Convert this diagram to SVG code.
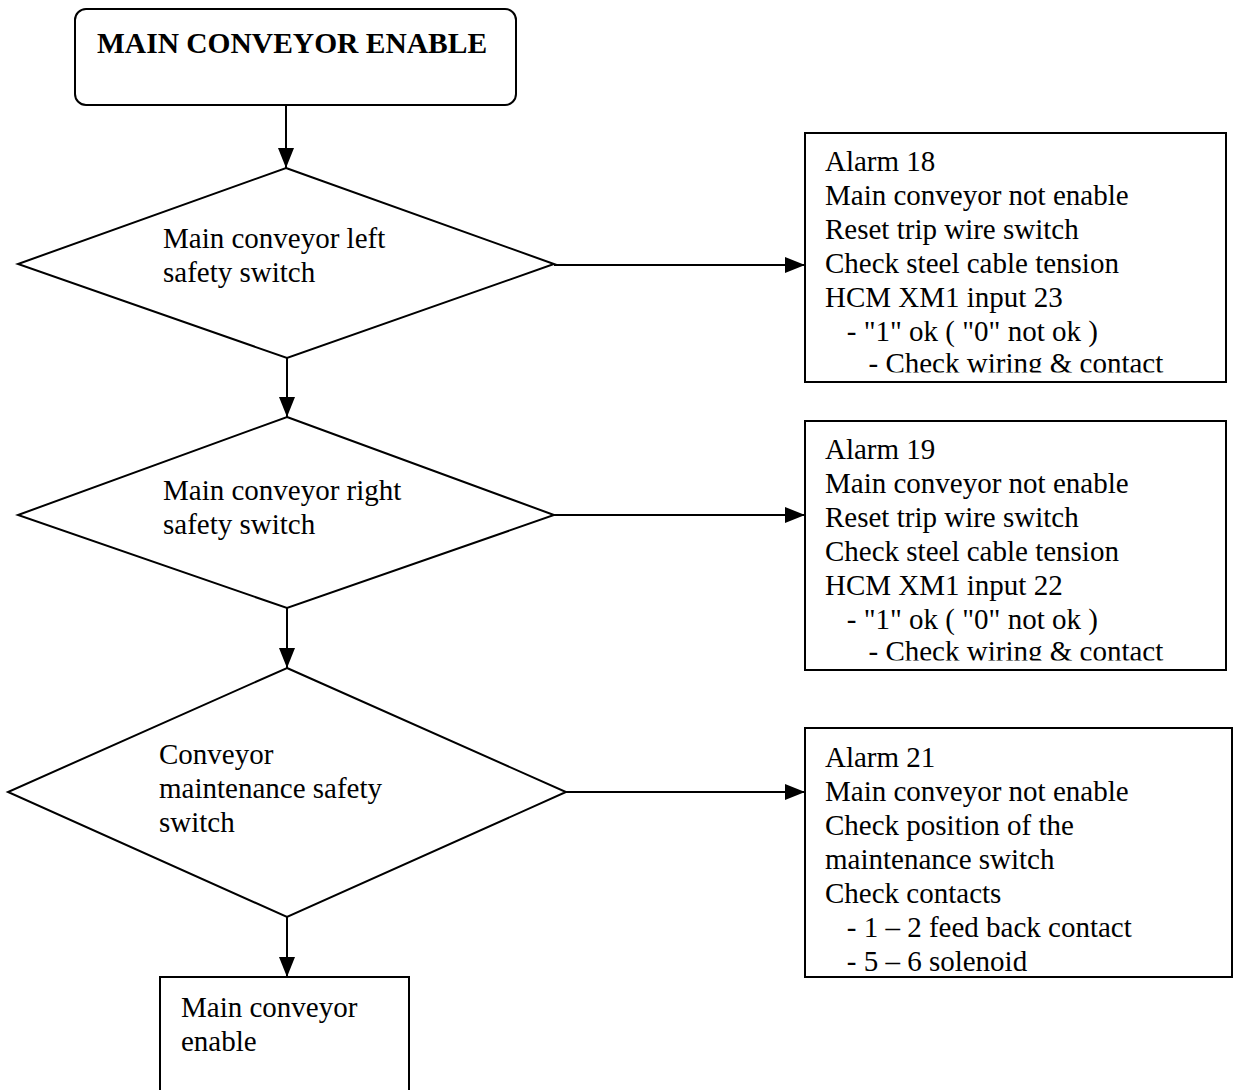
<svg xmlns="http://www.w3.org/2000/svg" width="1237" height="1090" viewBox="0 0 1237 1090">
<style>
.s{fill:#fff;stroke:#000;stroke-width:2}
.t{font-family:"Liberation Serif","Times New Roman",serif;font-size:29px;fill:#000}
.b{font-weight:bold;font-size:29.5px}
.c{stroke:#000;stroke-width:2;fill:none}
</style>
<defs>
<marker id="ah" markerUnits="userSpaceOnUse" markerWidth="20" markerHeight="16" refX="20" refY="8" orient="auto">
<path d="M0,0 L20,8 L0,16 z" fill="#000"/>
</marker>
<clipPath id="c1"><rect x="806" y="134" width="419" height="238.5"/></clipPath>
<clipPath id="c2"><rect x="806" y="422" width="419" height="238.5"/></clipPath>
<clipPath id="c3"><rect x="806" y="729" width="425" height="246"/></clipPath>
</defs>
<g id="connectors">
<line class="c" x1="286" y1="105" x2="286" y2="168" marker-end="url(#ah)"/>
<line class="c" x1="287" y1="358" x2="287" y2="417" marker-end="url(#ah)"/>
<line class="c" x1="287" y1="608" x2="287" y2="668" marker-end="url(#ah)"/>
<line class="c" x1="287" y1="917" x2="287" y2="977" marker-end="url(#ah)"/>
<line class="c" x1="554" y1="265" x2="805" y2="265" marker-end="url(#ah)"/>
<line class="c" x1="554" y1="515" x2="805" y2="515" marker-end="url(#ah)"/>
<line class="c" x1="566" y1="792" x2="805" y2="792" marker-end="url(#ah)"/>
</g>
<g id="start">
<rect class="s" x="75" y="9" width="441" height="96" rx="11"/>
<text class="t b" x="97" y="53">MAIN CONVEYOR ENABLE</text>
</g>
<g id="d1">
<polygon class="s" points="286,168 554,264 287,358 18,264"/>
<text class="t" x="163" y="248">Main conveyor left</text>
<text class="t" x="163" y="282">safety switch</text>
</g>
<g id="d2">
<polygon class="s" points="287,417 554,515 287,608 18,515"/>
<text class="t" x="163" y="500">Main conveyor right</text>
<text class="t" x="163" y="534">safety switch</text>
</g>
<g id="d3">
<polygon class="s" points="287,668 566,792 287,917 8,792"/>
<text class="t" x="159" y="764">Conveyor</text>
<text class="t" x="159" y="798">maintenance safety</text>
<text class="t" x="159" y="832">switch</text>
</g>
<g id="end">
<rect class="s" x="160" y="977" width="249" height="130"/>
<text class="t" x="181" y="1017">Main conveyor</text>
<text class="t" x="181" y="1051">enable</text>
</g>
<g id="a18">
<rect class="s" x="805" y="133" width="421" height="249"/>
<g clip-path="url(#c1)">
<text class="t" x="825" y="171">Alarm 18</text>
<text class="t" x="825" y="205">Main conveyor not enable</text>
<text class="t" x="825" y="239">Reset trip wire switch</text>
<text class="t" x="825" y="273">Check steel cable tension</text>
<text class="t" x="825" y="307">HCM XM1 input 23</text>
<text class="t" x="825" y="341" xml:space="preserve">   - "1" ok ( "0" not ok )</text>
<text class="t" x="825" y="373" xml:space="preserve">      - Check wiring &amp; contact</text>
</g>
</g>
<g id="a19">
<rect class="s" x="805" y="421" width="421" height="249"/>
<g clip-path="url(#c2)">
<text class="t" x="825" y="459">Alarm 19</text>
<text class="t" x="825" y="493">Main conveyor not enable</text>
<text class="t" x="825" y="527">Reset trip wire switch</text>
<text class="t" x="825" y="561">Check steel cable tension</text>
<text class="t" x="825" y="595">HCM XM1 input 22</text>
<text class="t" x="825" y="629" xml:space="preserve">   - "1" ok ( "0" not ok )</text>
<text class="t" x="825" y="661" xml:space="preserve">      - Check wiring &amp; contact</text>
</g>
</g>
<g id="a21">
<rect class="s" x="805" y="728" width="427" height="249"/>
<g clip-path="url(#c3)">
<text class="t" x="825" y="767">Alarm 21</text>
<text class="t" x="825" y="801">Main conveyor not enable</text>
<text class="t" x="825" y="835">Check position of the</text>
<text class="t" x="825" y="869">maintenance switch</text>
<text class="t" x="825" y="903">Check contacts</text>
<text class="t" x="825" y="937" xml:space="preserve">   - 1 – 2 feed back contact</text>
<text class="t" x="825" y="971" xml:space="preserve">   - 5 – 6 solenoid</text>
</g>
</g>
</svg>
